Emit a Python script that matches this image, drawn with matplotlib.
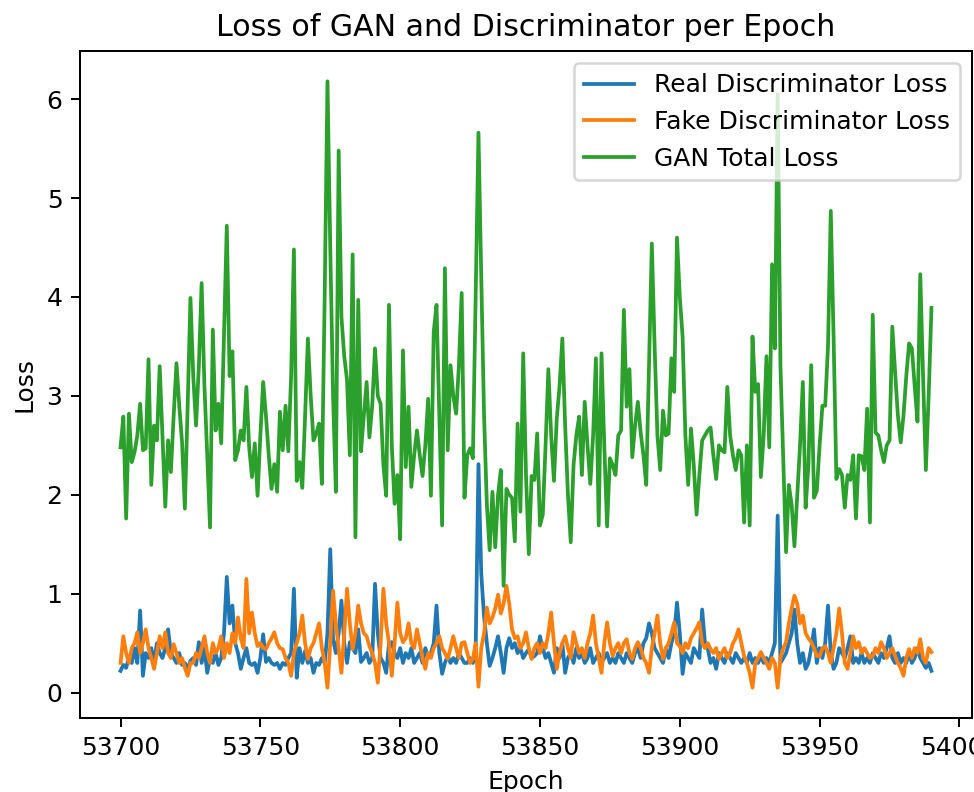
import numpy as np
import matplotlib
matplotlib.use("Agg")
import matplotlib.pyplot as plt

# loss values, one per epoch from 53700
real_loss = [
    0.22, 0.28, 0.25, 0.35, 0.30, 0.45, 0.30, 0.83, 0.17, 0.40,
    0.35, 0.45, 0.30, 0.50, 0.40, 0.35, 0.45, 0.64, 0.40, 0.35,
    0.30, 0.40, 0.28, 0.30, 0.24, 0.32, 0.35, 0.28, 0.51, 0.30,
    0.45, 0.20, 0.35, 0.30, 0.40, 0.28, 0.35, 0.60, 1.17, 0.70,
    0.88, 0.50, 0.40, 0.24, 0.35, 0.45, 0.30, 0.28, 0.30, 0.20,
    0.35, 0.59, 0.31, 0.35, 0.30, 0.28, 0.30, 0.24, 0.30, 0.28,
    0.35, 0.40, 1.05, 0.15, 0.45, 0.30, 0.42, 0.30, 0.35, 0.20,
    0.30, 0.28, 0.35, 0.30, 0.60, 1.45, 0.54, 0.40, 0.60, 0.93,
    0.50, 0.30, 0.51, 0.45, 0.40, 0.64, 0.31, 0.35, 0.40, 0.30,
    0.35, 1.10, 0.60, 0.35, 0.30, 0.20, 0.50, 0.51, 0.40, 0.35,
    0.45, 0.30, 0.40, 0.35, 0.45, 0.30, 0.35, 0.40, 0.30, 0.45,
    0.35, 0.40, 0.50, 0.88, 0.40, 0.19, 0.30, 0.37, 0.30, 0.35,
    0.30, 0.40, 0.35, 0.30, 0.30, 0.35, 0.30, 0.45, 2.31, 1.20,
    0.77, 0.50, 0.27, 0.35, 0.45, 0.57, 0.40, 0.20, 0.45, 0.55,
    0.45, 0.50, 0.40, 0.45, 0.35, 0.40, 0.44, 0.35, 0.37, 0.40,
    0.57, 0.45, 0.35, 0.40, 0.30, 0.20, 0.45, 0.35, 0.50, 0.20,
    0.35, 0.40, 0.30, 0.45, 0.35, 0.40, 0.30, 0.35, 0.45, 0.30,
    0.35, 0.40, 0.30, 0.35, 0.40, 0.30, 0.35, 0.30, 0.40, 0.35,
    0.30, 0.40, 0.35, 0.30, 0.40, 0.45, 0.35, 0.50, 0.55, 0.70,
    0.60, 0.45, 0.40, 0.35, 0.30, 0.45, 0.35, 0.50, 0.60, 0.91,
    0.60, 0.19, 0.40, 0.35, 0.30, 0.45, 0.40, 0.35, 0.84, 0.50,
    0.45, 0.30, 0.35, 0.24, 0.40, 0.35, 0.30, 0.40, 0.35, 0.30,
    0.40, 0.35, 0.30, 0.35, 0.30, 0.40, 0.30, 0.35, 0.30, 0.37,
    0.30, 0.35, 0.30, 0.40, 0.50, 1.79, 0.30, 0.35, 0.40, 0.50,
    0.60, 0.84, 0.50, 0.30, 0.40, 0.24, 0.30, 0.45, 0.64, 0.30,
    0.45, 0.35, 0.50, 0.88, 0.40, 0.24, 0.30, 0.45, 0.40, 0.35,
    0.45, 0.57, 0.30, 0.35, 0.30, 0.40, 0.30, 0.35, 0.30, 0.40,
    0.35, 0.30, 0.40, 0.35, 0.45, 0.57, 0.35, 0.30, 0.40, 0.30,
    0.35, 0.30, 0.40, 0.30, 0.35, 0.45, 0.35, 0.30, 0.25, 0.30,
    0.22,
]

fake_loss = [
    0.30, 0.57, 0.40, 0.30, 0.45, 0.50, 0.61, 0.40, 0.50, 0.64,
    0.45, 0.35, 0.24, 0.40, 0.57, 0.45, 0.61, 0.40, 0.35, 0.49,
    0.40, 0.30, 0.35, 0.25, 0.17, 0.30, 0.30, 0.40, 0.35, 0.45,
    0.57, 0.40, 0.30, 0.50, 0.40, 0.45, 0.57, 0.35, 0.50, 0.40,
    0.60, 0.50, 0.76, 0.55, 0.45, 1.15, 0.60, 0.81, 0.60, 0.47,
    0.50, 0.45, 0.44, 0.50, 0.55, 0.61, 0.50, 0.45, 0.44, 0.35,
    0.30, 0.17, 0.40, 0.50, 0.60, 0.78, 0.50, 0.34, 0.45, 0.50,
    0.60, 0.70, 0.45, 0.30, 0.05, 0.50, 1.03, 0.70, 0.45, 0.20,
    0.60, 1.05, 0.70, 0.44, 0.60, 0.88, 0.70, 0.60, 0.57, 0.47,
    0.40, 0.30, 0.10, 0.50, 1.05, 0.70, 0.50, 0.17, 0.50, 0.91,
    0.60, 0.51, 0.55, 0.70, 0.50, 0.45, 0.64, 0.50, 0.35, 0.24,
    0.40, 0.35, 0.45, 0.50, 0.57, 0.45, 0.40, 0.34, 0.45, 0.57,
    0.45, 0.35, 0.50, 0.51, 0.40, 0.30, 0.34, 0.50, 0.06, 0.45,
    0.60, 0.86, 0.70, 0.76, 0.85, 0.99, 0.80, 0.90, 1.08, 0.90,
    0.64, 0.55, 0.57, 0.45, 0.50, 0.61, 0.45, 0.34, 0.45, 0.50,
    0.40, 0.50, 0.45, 0.60, 0.81, 0.50, 0.24, 0.40, 0.50, 0.57,
    0.45, 0.35, 0.61, 0.50, 0.40, 0.45, 0.35, 0.50, 0.60, 0.78,
    0.50, 0.35, 0.20, 0.50, 0.71, 0.50, 0.37, 0.45, 0.50, 0.40,
    0.50, 0.54, 0.40, 0.34, 0.45, 0.51, 0.45, 0.35, 0.30, 0.20,
    0.45, 0.60, 0.78, 0.50, 0.34, 0.45, 0.50, 0.60, 0.71, 0.50,
    0.47, 0.40, 0.50, 0.45, 0.55, 0.60, 0.65, 0.71, 0.50, 0.45,
    0.50, 0.44, 0.40, 0.45, 0.34, 0.40, 0.45, 0.35, 0.40, 0.50,
    0.55, 0.64, 0.50, 0.37, 0.30, 0.20, 0.05, 0.30, 0.35, 0.41,
    0.35, 0.30, 0.24, 0.35, 0.30, 0.05, 0.35, 0.45, 0.51, 0.70,
    0.85, 0.98, 0.90, 0.70, 0.78, 0.60, 0.55, 0.51, 0.45, 0.37,
    0.37, 0.45, 0.47, 0.40, 0.30, 0.45, 0.60, 0.85, 0.60, 0.30,
    0.24, 0.40, 0.57, 0.45, 0.51, 0.40, 0.45, 0.40, 0.35, 0.37,
    0.45, 0.40, 0.51, 0.45, 0.35, 0.40, 0.45, 0.37, 0.30, 0.25,
    0.17, 0.35, 0.44, 0.35, 0.45, 0.40, 0.54, 0.35, 0.30, 0.45,
    0.41,
]

gan_loss = [
    2.48, 2.79, 1.76, 2.82, 2.33, 2.43, 2.60, 2.92, 2.45, 2.47,
    3.37, 2.10, 2.70, 2.55, 3.30, 2.60, 1.88, 2.55, 2.23, 2.80,
    3.33, 2.90, 2.53, 1.86, 2.90, 3.99, 3.20, 2.70, 3.30, 4.14,
    3.10, 2.40, 1.67, 3.67, 2.65, 2.92, 2.52, 3.60, 4.72, 3.20,
    3.45, 2.35, 2.45, 2.65, 2.55, 3.09, 2.48, 2.18, 2.52, 1.99,
    2.60, 3.14, 2.80, 2.40, 2.06, 2.31, 2.03, 2.84, 2.45, 2.90,
    2.44, 3.20, 4.48, 2.14, 2.33, 2.07, 2.80, 3.58, 3.00, 2.55,
    2.62, 2.72, 2.11, 4.00, 6.18, 4.50, 3.00, 2.03, 5.48, 3.80,
    3.40, 3.16, 2.40, 4.43, 1.57, 3.97, 2.44, 2.80, 3.14, 2.58,
    2.90, 3.48, 3.00, 2.92, 2.30, 1.99, 3.92, 2.50, 1.91, 2.20,
    1.55, 3.46, 2.28, 2.89, 2.08, 2.40, 2.65, 2.40, 2.19, 2.50,
    2.97, 1.99, 3.65, 3.92, 2.80, 1.69, 4.29, 2.45, 3.31, 3.00,
    2.82, 3.30, 4.04, 1.97, 2.40, 2.47, 2.37, 4.00, 5.66, 4.20,
    2.80, 1.90, 1.44, 2.03, 1.47, 2.00, 2.25, 1.08, 2.06, 2.00,
    1.97, 1.53, 2.72, 1.83, 3.43, 2.20, 1.40, 2.19, 2.15, 2.62,
    1.69, 1.80, 2.50, 3.27, 2.60, 2.14, 2.77, 3.10, 3.58, 2.70,
    2.00, 1.52, 2.30, 2.60, 2.79, 2.20, 2.94, 2.50, 2.11, 2.60,
    3.38, 1.69, 3.43, 2.50, 1.68, 2.37, 2.30, 2.20, 2.60, 2.65,
    3.87, 2.89, 3.27, 2.38, 2.70, 2.94, 2.63, 2.40, 2.10, 3.30,
    4.54, 3.50, 2.60, 2.25, 2.85, 2.60, 2.62, 3.38, 3.04, 4.60,
    4.00, 3.60, 2.60, 2.10, 2.67, 2.30, 1.80, 2.20, 2.55, 2.60,
    2.65, 2.68, 2.40, 2.16, 2.50, 2.45, 2.43, 3.09, 2.60, 2.40,
    2.25, 2.45, 2.40, 1.72, 2.50, 1.69, 3.60, 3.04, 3.12, 2.18,
    2.60, 3.40, 2.48, 4.33, 3.48, 6.05, 3.30, 2.37, 1.42, 2.10,
    1.90, 1.48, 2.00, 2.50, 3.14, 1.87, 2.30, 3.31, 1.97, 2.04,
    2.50, 2.90, 2.90, 3.50, 4.87, 3.60, 2.16, 2.26, 2.20, 1.87,
    2.20, 2.15, 2.40, 1.76, 2.40, 2.39, 2.25, 2.87, 1.72, 3.82,
    2.63, 2.60, 2.45, 2.33, 2.50, 2.55, 3.70, 3.24, 2.80, 2.53,
    2.80, 3.20, 3.53, 3.48, 3.10, 2.74, 4.23, 3.20, 2.25, 3.00,
    3.89,
]

epochs = np.arange(53700, 53700 + len(gan_loss))

fig = plt.figure(figsize=(974 / 180, 792 / 180), dpi=180)
ax = fig.add_axes([80 / 974, 74 / 792, 892 / 974, 667 / 792])

ax.plot(epochs, real_loss, label='Real Discriminator Loss')
ax.plot(epochs, fake_loss, label='Fake Discriminator Loss')
ax.plot(epochs, gan_loss, label='GAN Total Loss')

ax.set_title('Loss of GAN and Discriminator per Epoch')
ax.set_xlabel('Epoch')
ax.set_ylabel('Loss')
ax.legend(loc='upper right')

fig.savefig('out.png', dpi=180)
